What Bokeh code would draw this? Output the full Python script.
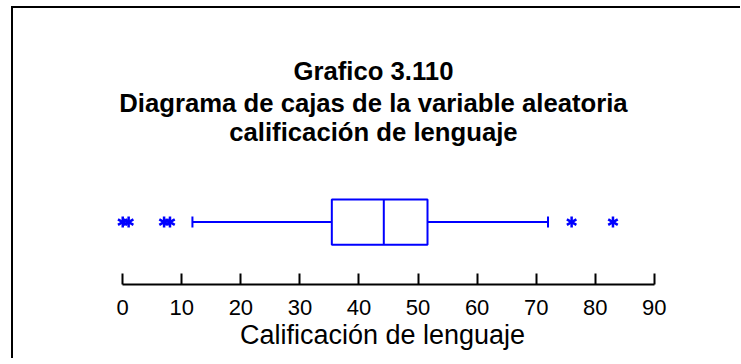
from bokeh.plotting import figure
from bokeh.models import Range1d, FixedTicker, Label
from bokeh.embed import file_html
from bokeh.resources import INLINE

# ---- data ----
title_lines = ["Grafico 3.110",
               "Diagrama de cajas de la variable aleatoria",
               "calificación de lenguaje"]
axis_title = "Calificación de lenguaje"
tick_values = [0, 10, 20, 30, 40, 50, 60, 70, 80, 90]
low_whisker = [11.8]
q1 = [35.4]
median = [44.2]
q3 = [51.6]
high_whisker = [72.0]
outliers = [0, 1, 7, 8, 76, 83]

BLUE = "#0000FF"
FONT = "Liberation Sans"

p = figure(width=727, height=350,
           x_range=Range1d(-12.06, 100.02), y_range=Range1d(0, 274),
           output_backend="svg", toolbar_location=None,
           y_axis_location=None,
           min_border_left=38, min_border_right=29,
           min_border_top=0, min_border_bottom=76)
p.outline_line_color = None
p.grid.visible = False
p.background_fill_color = "white"
p.border_fill_color = "white"
p.styles = {"border-top": "2px solid black", "border-left": "2px solid black",
            "box-sizing": "content-box",
            "margin-left": "11px", "margin-top": "6px"}

# row layout (vertical position/size of the box in this frame)
yc = 62
half = 22.5
cap = 5.5

n = len(q1)
p.quad(left=q1, right=q3, bottom=[yc - half] * n, top=[yc + half] * n,
       fill_color=None, line_color=BLUE, line_width=2)
p.segment(x0=median, x1=median, y0=[yc - half] * n, y1=[yc + half] * n,
          line_color=BLUE, line_width=2)
p.segment(x0=low_whisker, x1=q1, y0=[yc] * n, y1=[yc] * n,
          line_color=BLUE, line_width=2)
p.segment(x0=q3, x1=high_whisker, y0=[yc] * n, y1=[yc] * n,
          line_color=BLUE, line_width=2)
p.segment(x0=low_whisker + high_whisker, x1=low_whisker + high_whisker,
          y0=[yc - cap] * 2, y1=[yc + cap] * 2,
          line_color=BLUE, line_width=2)

# asterisks: three strokes
for ang in (1.5708, 0.5236, -0.5236):
    p.scatter(x=outliers, y=[yc] * len(outliers), marker="dash", size=11,
              angle=ang, line_color=BLUE, line_width=2.5)

# titles
title_base = [212, 180.5, 151]
for txt, yy in zip(title_lines, title_base):
    p.add_layout(Label(x=42.45, y=yy, text=txt, text_align="center",
                       text_baseline="alphabetic", text_font=FONT,
                       text_font_style="bold", text_font_size="25.7px",
                       text_color="black"))

ax = p.xaxis[0]
ax.ticker = FixedTicker(ticks=tick_values)
ax.bounds = (0, 90)
ax.axis_line_width = 2
ax.axis_line_color = "black"
ax.major_tick_line_width = 2
ax.major_tick_line_color = "black"
ax.major_tick_in = 11
ax.major_tick_out = 0
ax.minor_tick_line_color = None
ax.major_label_text_font = FONT
ax.major_label_text_font_size = "22px"
ax.major_label_text_color = "black"
ax.major_label_standoff = 15
ax.axis_label = axis_title
ax.axis_label_text_font = FONT
ax.axis_label_text_font_size = "27px"
ax.axis_label_text_font_style = "normal"
ax.axis_label_text_color = "black"
ax.axis_label_standoff = 2

open("out.html", "w").write(file_html(p, INLINE))
